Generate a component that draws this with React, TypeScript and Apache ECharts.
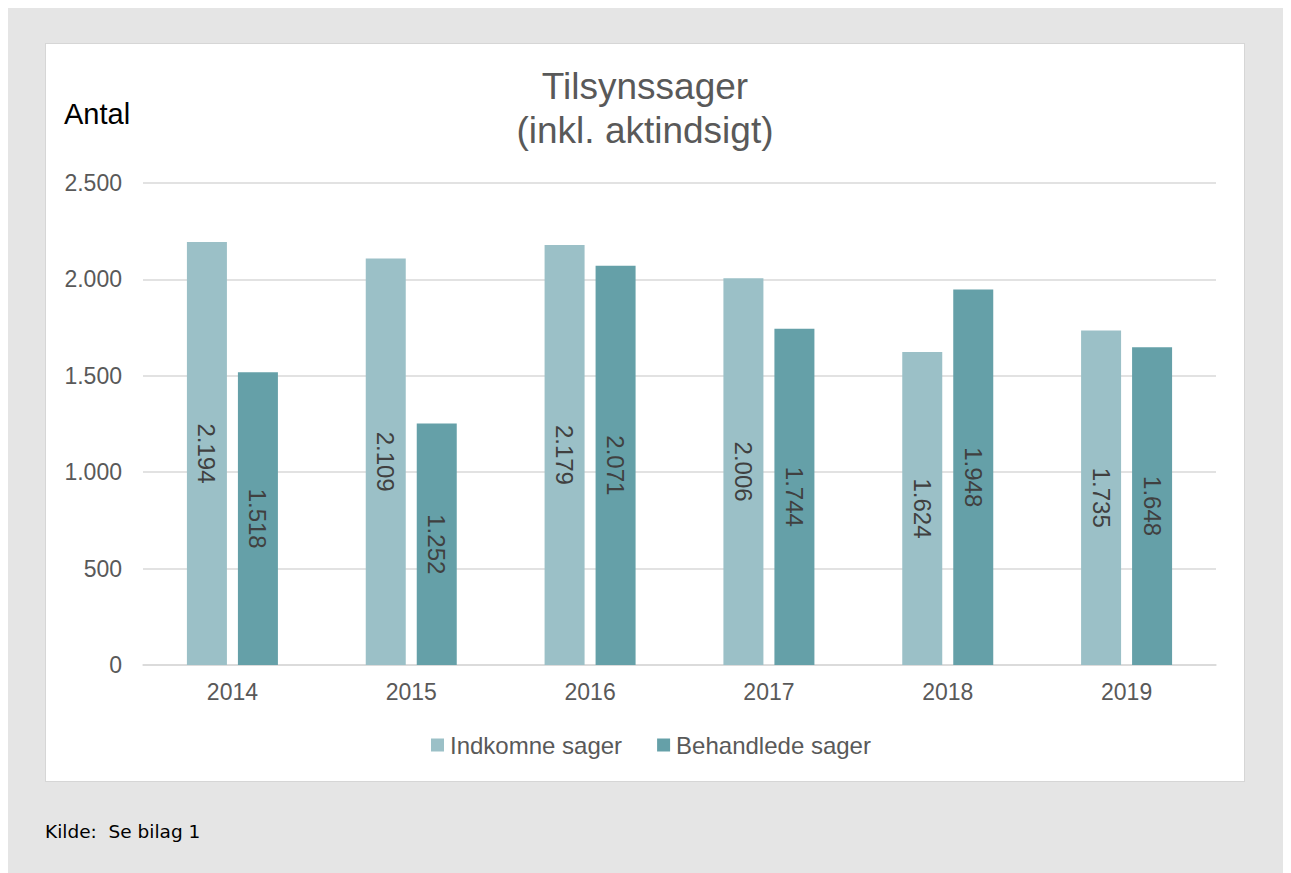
import React, { useEffect, useRef } from "react";
import * as echarts from "echarts";

const years = ["2014", "2015", "2016", "2017", "2018", "2019"];
const indkomne = [2194, 2109, 2179, 2006, 1624, 1735];
const behandlede = [1518, 1252, 2071, 1744, 1948, 1648];
const seriesNames = ["Indkomne sager", "Behandlede sager"];
const yTicks = { min: 0, max: 2500, interval: 500 };

const fmt = (v: number) => {
  const s = String(Math.round(v));
  return s.replace(/\B(?=(\d{3})+(?!\d))/g, ".");
};

export default function App() {
  const ref = useRef<HTMLDivElement>(null);
  useEffect(() => {
    if (!ref.current) return;
    const chart = echarts.init(ref.current, undefined, { renderer: "svg" });
    const font = "'Liberation Sans', Arial, sans-serif";
    const labelStyle = {
      show: true,
      position: "inside",
      rotate: -90,
      fontSize: 24,
      color: "#404040",
      fontFamily: font,
      formatter: (p: any) => fmt(p.value),
    };
    chart.setOption({
      animation: false,
      backgroundColor: "transparent",
      textStyle: { fontFamily: font },
      graphic: [
        {
          type: "text",
          x: 637,
          y: 56,
          style: {
            text: "Tilsynssager\n(inkl. aktindsigt)",
            fontSize: 37,
            lineHeight: 44,
            fill: "#595959",
            fontFamily: font,
            align: "center",
          },
        },
        {
          type: "text",
          x: 56,
          y: 91,
          style: {
            text: "Antal",
            fontSize: 29,
            fill: "#000000",
            fontFamily: font,
          },
        },
      ],
      legend: {
        data: seriesNames,
        left: 423,
        top: 725,
        padding: 0,
        itemWidth: 13,
        itemHeight: 13,
        itemGap: 35,
        icon: "rect",
        textStyle: { fontSize: 24, color: "#595959", fontFamily: font, padding: [0, 0, 0, 1] },
      },
      grid: { left: 135, right: 75, top: 175, bottom: 208, containLabel: false },
      xAxis: {
        type: "category",
        data: years,
        axisLine: { lineStyle: { color: "#d9d9d9", width: 1.5 } },
        axisTick: { show: false },
        axisLabel: { fontSize: 23, color: "#595959", margin: 15, fontFamily: font },
      },
      yAxis: {
        type: "value",
        min: yTicks.min,
        max: yTicks.max,
        interval: yTicks.interval,
        axisLine: { show: false },
        axisTick: { show: false },
        splitLine: { lineStyle: { color: "#d9d9d9", width: 1.5 } },
        axisLabel: {
          fontSize: 23,
          color: "#595959",
          margin: 21,
          fontFamily: font,
          formatter: (v: number) => fmt(v),
        },
      },
      series: [
        {
          name: seriesNames[0],
          type: "bar",
          data: indkomne,
          barWidth: 40,
          barGap: "27.5%",
          itemStyle: { color: "#9bc0c7" },
          label: labelStyle,
        },
        {
          name: seriesNames[1],
          type: "bar",
          data: behandlede,
          barWidth: 40,
          barGap: "27.5%",
          itemStyle: { color: "#65a0a8" },
          label: labelStyle,
        },
      ],
    });
    return () => chart.dispose();
  }, []);

  return (
    <div style={{ position: "relative", width: 1283, height: 865, background: "#e5e5e5" }}>
      <div
        style={{
          position: "absolute",
          left: 37,
          top: 35,
          width: 1198,
          height: 737,
          background: "#ffffff",
          border: "1px solid #d6d6d6",
        }}
      />
      <div ref={ref} style={{ position: "absolute", left: 0, top: 0, width: 1283, height: 865 }} />
      <div
        style={{
          position: "absolute",
          left: 37,
          top: 811,
          fontFamily: "'DejaVu Sans', Verdana, sans-serif",
          fontSize: 18.5,
          lineHeight: "26px",
          color: "#000",
          whiteSpace: "pre",
        }}
      >
        {"Kilde:  Se bilag 1"}
      </div>
    </div>
  );
}
